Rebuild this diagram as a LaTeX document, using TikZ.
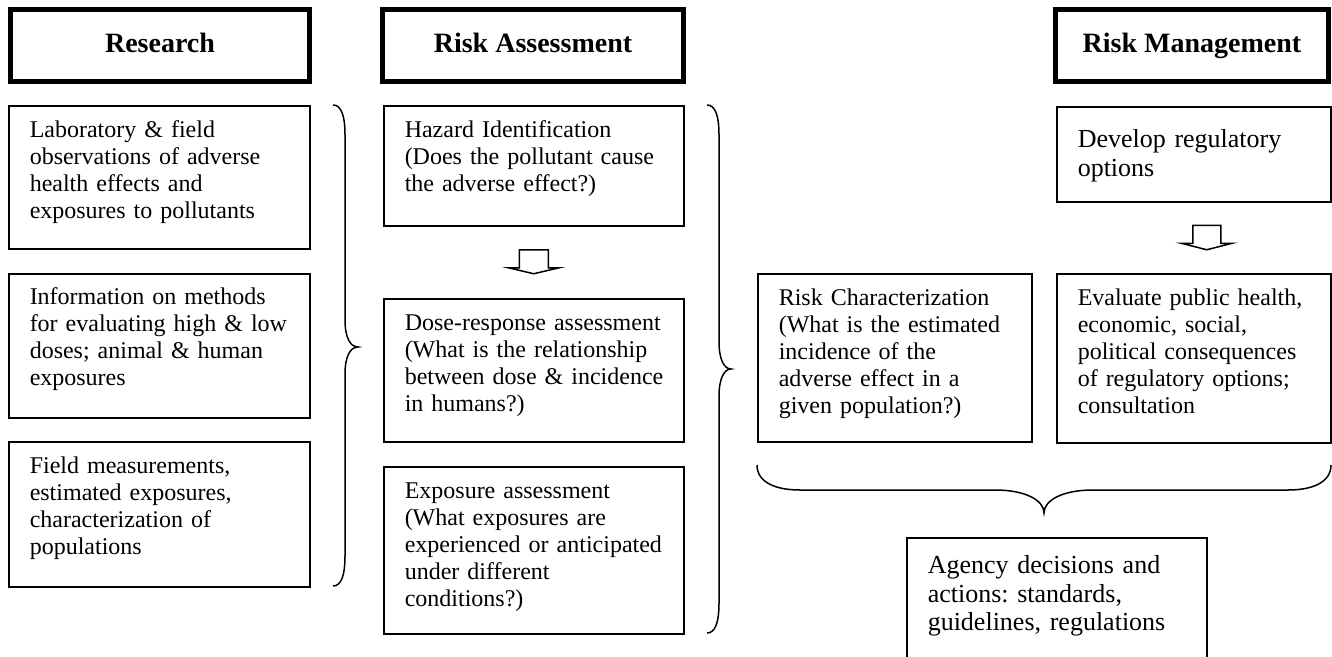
\documentclass[tikz,border=0pt]{standalone}
\usepackage{fontspec}
\setmainfont{Liberation Serif}
\usetikzlibrary{calc}
\frenchspacing
\begin{document}
\begin{tikzpicture}[x=1pt,y=-1pt,
  hdr/.style={draw, line width=5pt, minimum height=72pt, text height=13pt, text depth=0pt,
    font=\bfseries\fontsize{28}{32}\selectfont, inner sep=0pt},
  box/.style={draw, line width=1.5pt, anchor=north west, inner xsep=16pt, inner ysep=0pt,
    align=left, font=\fontsize{24}{27}\selectfont\frenchspacing,
    execute at begin node={\leftskip=5pt}},
  bigbox/.style={box, font=\fontsize{26}{28.5}\selectfont\frenchspacing},
  brace/.style={draw, line width=1.5pt},
  blockarrow/.style={draw, line width=1.5pt, line join=miter}
]
\useasboundingbox (0,0) rectangle (1332,656);
\clip (0,0) rectangle (1332,656);

% headers
\node[hdr, minimum width=299pt] (hres) at (160,45.5) {Research};
\node[hdr, minimum width=301pt] (hra) at (533,45.5) {Risk Assessment};
\node[hdr, minimum width=273pt] (hrm) at (1192,45.5) {Risk Management};

% research column
\node[box, text width=269pt, text height=32pt, text depth=111pt] (l1) at (8,105)
  {Laboratory \& field\\observations of adverse\\health effects and\\exposures to pollutants};
\node[box, text width=269pt, text height=31pt, text depth=113pt] (l2) at (8,273)
  {Information on methods\\for evaluating high \& low\\doses; animal \& human\\exposures};
\node[box, text width=269pt, text height=32pt, text depth=113pt] (l3) at (8,441)
  {Field measurements,\\estimated exposures,\\characterization of\\populations};

% risk assessment column
\node[box, text width=268pt, text height=32pt, text depth=88pt] (m1) at (383,105)
  {Hazard Identification\\(Does the pollutant cause\\the adverse effect?)};
\node[box, text width=268pt, text height=32pt, text depth=111pt] (m2) at (383,298)
  {Dose-response assessment\\(What is the relationship\\between dose \& incidence\\in humans?)};
\node[box, text width=268pt, text height=32pt, text depth=135pt] (m3) at (383,466)
  {Exposure assessment\\(What exposures are\\experienced or anticipated\\under different\\conditions?)};

% right part
\node[box, text width=242pt, text height=32pt, text depth=136pt] (rc) at (757,273)
  {Risk Characterization\\(What is the estimated\\incidence of the\\adverse effect in a\\given population?)};
\node[box, text width=242pt, text height=32pt, text depth=137pt] (ev) at (1056,273)
  {Evaluate public health,\\economic, social,\\political consequences\\of regulatory options;\\consultation};
\node[bigbox, text width=242pt, text height=41pt, text depth=54pt] (dv) at (1056,106)
  {Develop regulatory\\options};
\node[bigbox, text width=268pt, text height=36pt, text depth=114pt] (ag) at (906,537)
  {Agency decisions and\\actions: standards,\\guidelines, regulations};

% hollow block arrows
\coordinate (a1) at ($(m1.south)!0.5!(m2.north)$);
\draw[blockarrow, shift={(a1)}] (-14.5,-12.5) -- (14.5,-12.5) -- (14.5,5.5) -- (25.5,5.5)
  -- (0,11.5) -- (-25.5,5.5) -- (-14.5,5.5) -- cycle;
\coordinate (a2) at ($(dv.south)!0.5!(ev.north)+(13,0)$);
\draw[blockarrow, shift={(a2)}] (-14,-12.5) -- (14,-12.5) -- (14,5.5) -- (25.5,5.5)
  -- (0,12) -- (-25.5,5.5) -- (-14,5.5) -- cycle;

% braces
\draw[brace] (333,105) .. controls (341,105) and (345,115) .. (345,135) -- (345,320)
  .. controls (345,337) and (350,347) .. (358,347)
  .. controls (350,347) and (345,357) .. (345,374) -- (345,556)
  .. controls (345,576) and (341,586) .. (333,586);
\draw[brace] (707,105) .. controls (715,105) and (719,115) .. (719,135) -- (719,342)
  .. controls (719,359) and (724,369) .. (731,369)
  .. controls (724,369) and (719,379) .. (719,396) -- (719,603)
  .. controls (719,623) and (715,633) .. (707,633);
\draw[brace] (757,465) .. controls (757,482) and (775,490) .. (800,490) -- (995,490)
  .. controls (1025,490) and (1044,500) .. (1044,513)
  .. controls (1044,500) and (1063,490) .. (1093,490) -- (1288,490)
  .. controls (1313,490) and (1331,482) .. (1331,465);
\end{tikzpicture}
\end{document}
